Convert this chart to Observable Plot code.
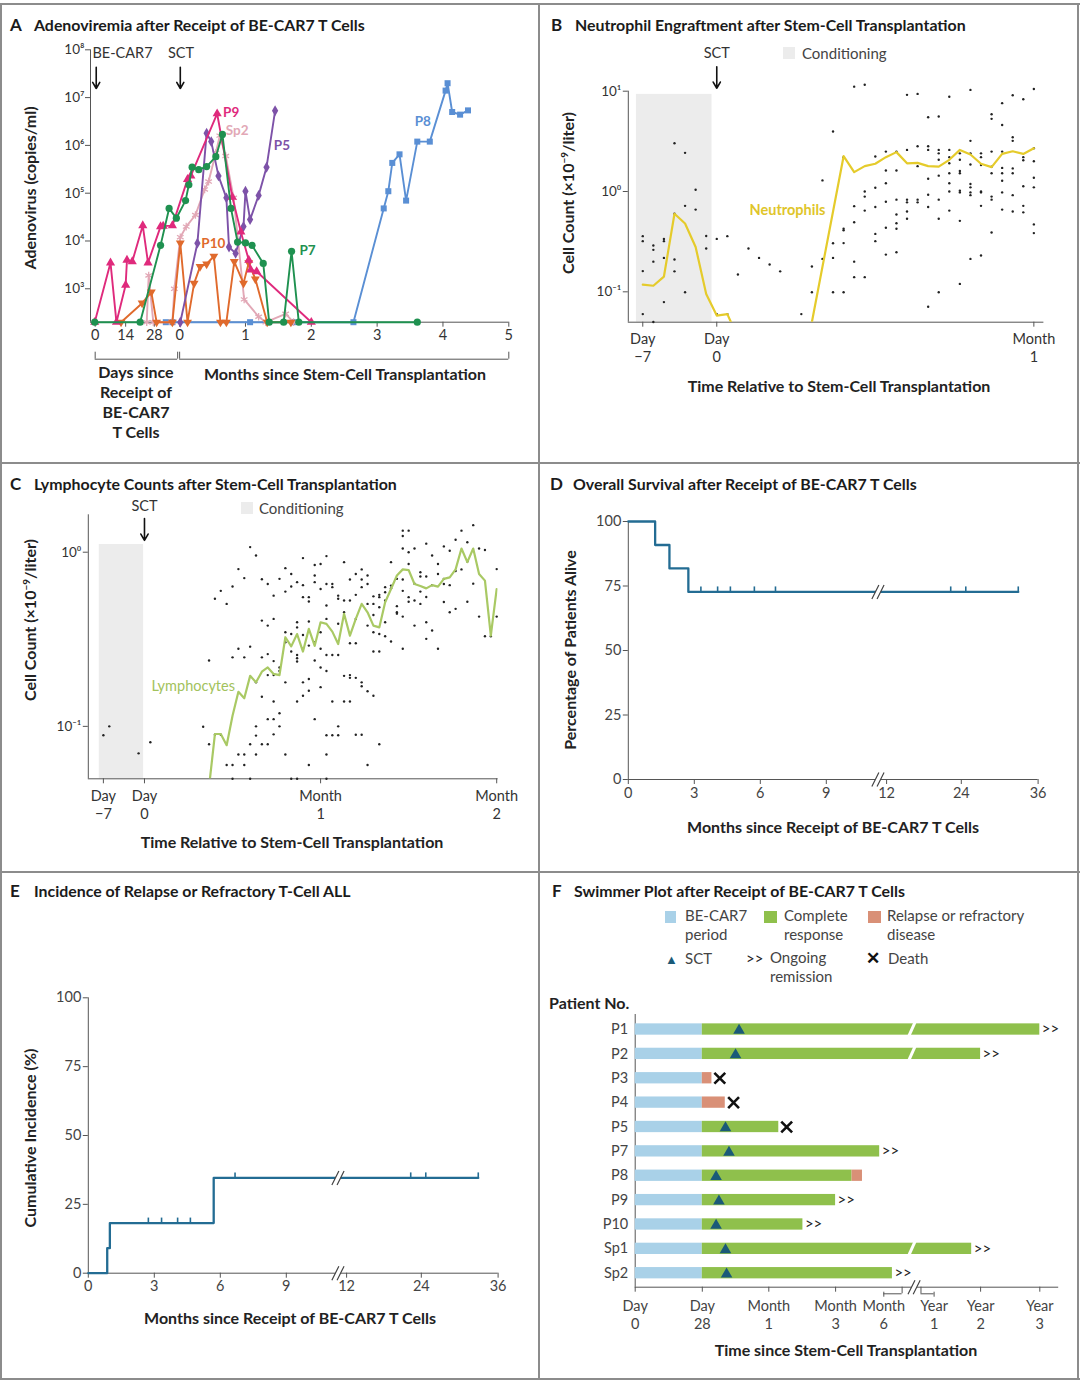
<!DOCTYPE html>
<html>
<head>
<meta charset="utf-8">
<script src="https://cdn.jsdelivr.net/npm/d3@7"></script>
<script src="https://cdn.jsdelivr.net/npm/@observablehq/plot@0.6"></script>
<style>
html,body{margin:0;padding:0;background:#fff;}
#fig{position:relative;width:1080px;height:1381px;overflow:hidden;background:#fff;font-family:Lato,"Open Sans",sans-serif;color:#222;}
.ln{position:absolute;background:#8c8c8c;}
.t{position:absolute;white-space:nowrap;line-height:1.25;}
.ttl{font-weight:700;font-size:15.9px;color:#1b1b1b;}
.let{font-weight:700;font-size:17px;color:#1b1b1b;}
.ax{font-weight:700;font-size:16px;color:#222;}
.lg{font-size:15px;color:#444;}
svg{overflow:visible;}
</style>
</head>
<body>
<div id="fig"></div>
<script>
// ================= DATA =================
// Panel A: [time (months rel. to SCT; negative = BE-CAR7 period), adenovirus copies/ml]; 200 = undetectable
const aP9  = [[-1.29,200],[-1.05,3500],[-0.96,200],[-0.82,1200],[-0.80,4000],[-0.72,3700],[-0.56,21000],[-0.48,3500],[-0.29,20000],[-0.25,20500],[-0.11,21000],[0.12,195000],[0.17,230000],[0.57,4.6e6],[0.80,83000],[0.93,15500],[1.05,4000],[1.08,2500],[1.17,2300],[2.00,200]];
const aSp2 = [[-0.50,200],[-0.47,1900],[-0.40,200],[-0.11,200],[-0.08,1000],[0.01,12000],[0.10,20000],[0.24,35000],[0.38,120000],[0.44,175000],[0.55,700000],[0.61,1.6e6],[0.70,600000],[0.82,80000],[0.98,600],[1.20,260],[1.31,200],[1.61,300],[1.73,200]];
const aP5  = [[0.01,200],[0.27,9000],[0.41,1.8e6],[0.48,1.2e6],[0.59,230000],[0.71,80000],[0.75,7500],[0.85,5500],[0.97,20000],[1.00,110000],[1.07,28000],[1.20,90000],[1.32,350000],[1.45,5.3e6]];
const aP10 = [[-0.89,200],[-0.57,500],[-0.43,850],[-0.35,200],[-0.11,200],[0.01,9000],[0.12,200],[0.22,1300],[0.31,2900],[0.41,3300],[0.52,4800],[0.62,200],[0.71,200],[0.83,3700],[0.97,1300],[1.05,3500],[1.15,1600],[1.33,200],[1.69,200]];
const aP7  = [[-1.29,200],[-0.60,200],[-0.29,8100],[-0.16,48000],[-0.05,30000],[0.09,70000],[0.14,150000],[0.19,350000],[0.29,310000],[0.41,360000],[0.55,580000],[0.65,1.7e6],[0.78,48000],[0.88,9500],[1.00,9100],[1.10,8100],[1.27,3400],[1.36,200],[1.58,200],[1.70,6100],[1.81,200],[3.61,200]];
const aP8  = [[-0.21,200],[-0.11,200],[1.07,200],[1.72,200],[2.64,200],[3.10,48000],[3.17,110000],[3.23,430000],[3.34,650000],[3.44,70000],[3.61,1.2e6],[3.80,1.2e6],[4.04,1.4e7],[4.07,2e7],[4.14,5e6],[4.26,4.4e6],[4.38,5.4e6]];
const aTickPos = [-1.283, -0.82, -0.385, 0, 1, 2, 3, 4, 5];
const aTickLab = ["0","14","28","0","1","2","3","4","5"];
const aYTicks = [1e3,1e4,1e5,1e6,1e7,1e8];
const aLabels = [
  {x:0.66, y:4.9e6, t:"P9",  c:"#df2a7c"},
  {x:0.70, y:2.05e6, t:"Sp2", c:"#e2a8b6"},
  {x:1.43, y:1.0e6, t:"P5",  c:"#7d52a8"},
  {x:3.57, y:3.2e6, t:"P8",  c:"#5a8fd4"},
  {x:0.33, y:8.7e3, t:"P10", c:"#e06a2c"},
  {x:1.82, y:6.2e3, t:"P7",  c:"#1f9150"}
];

// Panel B: neutrophils (days rel. to SCT, x10^9/liter)
const bLineDay = [-7,-6,-5,-4,-3,-2,-1,0,1,2,8,9,12,13,14,15,16,17,18,19,20,21,22,23,24,25,26,27,28,29,30];
const bLineVal = [0.118,0.115,0.142,0.60,0.48,0.28,0.095,0.058,0.060,0.035,0.025,0.05,2.25,1.56,1.79,1.89,2.2,2.47,1.91,1.93,1.79,1.77,2.07,2.6,2.34,1.89,1.75,2.37,2.52,2.37,2.7];
const bDotDay = [-7,-6,-5,-4,-3,-2,-1,0,1,2,3,4,5,6,8,9,10,11,12,13,14,15,16,17,18,19,20,21,22,23,24,25,26,27,28,29,30];
const bDotVal = [
 [0.359,0.32,0.161,0.060],[0.29,0.262,0.20,0.05],[0.337,0.32,0.218,0.079],[3.03,0.60,0.21,0.16],[2.43,0.72,0.099],
 [1.04,0.66],[0.36,0.27],[0.337,0.060],[0.359,0.060],[0.149],[0.27],[0.218],[0.187],[0.16],[0.060],[0.179,0.099],
 [1.29,0.213],[3.96,0.305,0.218,0.099],[2.2,0.425,0.41,0.306,0.099],[11.1,0.715,0.494,0.20,0.14],[11.6,1.0,0.89,0.645,0.14],
 [2.23,1.09,0.70,0.378,0.32],[2.5,1.62,1.21,0.79,0.435,0.235],[2.5,1.62,0.83,0.59,0.483,0.425,0.248],[9.2,2.6,0.83,0.78,0.632,0.535],
 [9.4,2.83,1.79,0.83,0.78],[5.5,2.83,2.6,1.34,0.93,0.70,0.071],[5.6,2.6,2.4,2.07,1.44,0.83,0.535,0.099],[8.8,2.6,2.2,1.91,1.52,1.21,1.0,0.645],
 [2.4,2.07,1.6,1.52,1.02,0.98,0.51,0.12],[10.3,3.2,2.4,1.86,1.19,1.1,0.98,0.92,0.213],[2.4,2.2,1.84,1.0,0.98,0.72,0.23],
 [5.9,5.3,2.5,1.77,1.52,0.89,0.83,0.39],[7.6,4.6,2.5,1.72,1.52,1.28,0.98,0.66],[9.1,3.47,3.2,1.7,1.52,0.92,0.632],
 [8.3,2.2,2.05,1.13,0.72,0.62],[10.5,2.7,2.0,1.37,1.1,0.47,0.385]
];
const bTickPos = [-7, 0, 30];
const bTickLab = ["Day\n\u22127", "Day\n0", "Month\n1"];
const bYTicks = [0.1, 1, 10];
const condB = [-7.6, -0.45, 9.3];

// Panel C: lymphocytes
const cLineDay = d3.range(11, 61);
const cLineVal = [0.045,0.0904,0.0904,0.078,0.115,0.158,0.145,0.195,0.179,0.206,0.218,0.20,0.197,0.325,0.288,0.339,0.269,0.363,0.29,0.396,0.388,0.35,0.297,0.443,0.332,0.414,0.505,0.452,0.379,0.37,0.516,0.615,0.735,0.797,0.79,0.657,0.64,0.62,0.647,0.635,0.703,0.717,0.797,1.05,0.877,1.05,0.75,0.687,0.332,0.615];
const cDotDay = [-7,-6,-1,1].concat(d3.range(10, 61));
const cDotVal = [
 [0.089],[0.1],[0.070],[0.081],
 [0.0995],[0.239,0.079],[0.54,0.0896],[0.60,0.0896],[0.505,0.060],[0.635,0.249,0.060,0.05],[0.80,0.279,0.069],
 [0.71,0.249,0.069,0.060],[1.07,0.287,0.079,0.05],[0.957,0.179,0.1,0.0885,0.069],[0.70,0.405,0.249,0.148,0.079],
 [0.657,0.379,0.26,0.197,0.110,0.079],[0.563,0.414,0.237,0.197,0.139,0.11,0.090],[0.703,0.218,0.208,0.119,0.1],
 [0.81,0.594,0.347,0.304,0.179,0.069],[0.75,0.635,0.339,0.269,0.05],[0.673,0.396,0.37,0.257,0.246,0.236,0.139,0.05],
 [0.925,0.647,0.552,0.335,0.279,0.179,0.15],[0.552,0.521,0.4,0.291,0.187,0.16,0.06],[0.845,0.735,0.673,0.304,0.239,0.11],
 [0.855,0.615,0.347,0.279,0.218,0.168],[0.95,0.657,0.494,0.414,0.257,0.208,0.089,0.069,0.05],[0.657,0.63,0.257,0.139,0.089],
 [0.563,0.54,0.388,0.257,0.1,0.089],[0.877,0.528,0.452,0.195,0.139],[0.697,0.528,0.30,0.197,0.19,0.139],
 [0.75,0.569,0.414,0.30,0.19,0.0896],[0.797,0.697,0.63,0.179,0.17,0.0896],[0.735,0.657,0.505,0.379,0.159,0.06],
 [0.558,0.505,0.436,0.347,0.269,0.15],[0.569,0.552,0.483,0.339,0.269,0.079],[0.63,0.589,0.528,0.396,0.329],
 [0.877,0.643,0.62,0.307],[0.703,0.49,0.452,0.444],[1.33,1.24,1.05,0.697,0.60,0.427,0.279],[1.33,1.0,0.855,0.552,0.52],
 [1.05,0.66,0.528,0.379],[0.767,0.725,0.594,0.505],[1.12,0.725,0.553,0.396,0.318],[0.957,0.647,0.355],[0.855,0.75,0.279],
 [1.08,0.703,0.657,0.518],[1.02,0.647,0.452],[1.18,0.78,0.473],[1.33,0.797],[1.14,0.885,0.52],[1.43,0.66],[1.05,0.427],
 [1.03,0.329],[0.329],[0.80,0.427]
];
const cTickPos = [-7, 0, 30, 60];
const cTickLab = ["Day\n\u22127", "Day\n0", "Month\n1", "Month\n2"];
const cYTicks = [0.1, 1];
const condC = [-7.7, -0.15, 1.107];

// Panel D: overall survival (months)
const dTime = [0, 1.22, 1.87, 2.73, 32.9];
const dSurv = [100, 90.9, 81.8, 72.7, 72.7];
const dCensor = [3.3, 4.06, 4.64, 5.73, 6.69, 22.3, 24.7, 32.9];
// Panel E: cumulative incidence of relapse (months)
const eTime = [0, 0.86, 0.98, 5.7, 32.9];
const eInc  = [0, 9.1, 18.2, 34.6, 34.6];
const eCensorLow = [2.73, 3.33, 4.06, 4.64];
const eCensorHigh = [6.67, 22.3, 24.7, 32.9];
const kmTicks = [0, 3, 6, 9, 12, 24, 36];
const kmYTicks = [0, 25, 50, 75, 100];
const kmBreak = 11.57;

// Panel F: swimmer plot (x in days from BE-CAR7 on a broken axis)
const fPatients = ["P1","P2","P3","P4","P5","P7","P8","P9","P10","Sp1","Sp2"];
const fCarEnd  = 28;
const fCREnd   = [1123, 758, null, null, 67.5, 202.8, 150.5, 119.3, 89.5, 688, 241.8];
const fRelapse = [null, null, [28,32.4], [28,38.5], null, null, [150.5,170.2], null, null, null, null];
const fSCT     = [44.8, 43.2, null, null, 38.6, 40.2, 34.3, 35.6, 34.3, 38.6, 39.1];
const fDeath   = [null, null, 36, 42.3, 74.7, null, null, null, null, null, null];
const fOngoing = [true, true, false, false, false, true, false, true, true, true, true];
const fBroken  = ["P1", "P2", "Sp1"];
const fTickPos = [0, 28, 58.4, 119.3, 210.6, 393, 758, 1123];
const fTickLab = ["Day\n0","Day\n28","Month\n1","Month\n3","Month\n6","Year\n1","Year\n2","Year\n3"];
const fTickMarks = [0, 28, 58.4, 119.3, 758, 1123];

// ================= HELPERS =================
const fig = document.getElementById("fig");
const SUP = {"0":"\u2070","1":"\u00b9","2":"\u00b2","3":"\u00b3","4":"\u2074","5":"\u2075","6":"\u2076","7":"\u2077","8":"\u2078","9":"\u2079","-":"\u207b"};
const logFmt = d => "10" + String(Math.round(Math.log10(d))).split("").map(c => SUP[c]).join("");
const FONT = "Lato, 'Open Sans', sans-serif";
const baseStyle = {fontFamily: FONT, fontSize: "14px", color: "#333", overflow: "visible", background: "transparent"};
function place(node, left, top) { node.style.position = "absolute"; node.style.left = left + "px"; node.style.top = top + "px"; fig.appendChild(node); }
function txt(html, x, y, cls, mode) {
  const d = document.createElement("div"); d.className = "t " + cls; d.innerHTML = html;
  d.style.left = x + "px"; d.style.top = y + "px";
  d.style.transform = mode === "rot" ? "translate(-50%,-50%) rotate(-90deg)" : mode === "left" ? "translate(0,-50%)" : "translate(-50%,-50%)";
  if (mode === "center") d.style.textAlign = "center";
  fig.appendChild(d); return d;
}
function line(x, y, w, h) { const d = document.createElement("div"); d.className = "ln"; Object.assign(d.style, {left:x+"px", top:y+"px", width:w+"px", height:h+"px"}); fig.appendChild(d); }
const lookup = (pos, lab) => d => lab[pos.indexOf(d)];
const gapSym = {draw(ctx, size){ const r = Math.sqrt(size/Math.PI); ctx.moveTo(-r*0.5-2.6, r); ctx.lineTo(r*0.5-2.6, -r); ctx.lineTo(r*0.5+2.6, -r); ctx.lineTo(-r*0.5+2.6, r); ctx.closePath(); }};
const dblSym = {draw(ctx, size){ const r = Math.sqrt(size/Math.PI); for (const o of [-2.6, 2.6]) { ctx.moveTo(-r*0.5+o, r); ctx.lineTo(r*0.5+o, -r); } }};
const slashSym = {draw(ctx, size){ const r = Math.sqrt(size/Math.PI); ctx.moveTo(-r*0.45, r); ctx.lineTo(r*0.45, -r); }};

// broken-axis unit conversions (months or days -> position along a linear axis)
const kmPos = d3.scaleLinear().domain([0, 9, 12, 24, 36]).range([0, 198, 258.3, 333, 409.8]);
const fPos = d3.scaleLinear().domain([0, 28, 58.4, 119.3, 210.6, 393, 758, 1123, 1240]).range([0, 67.1, 133.6, 200.4, 248.6, 298.9, 345.4, 404.6, 423.5]);

// ================= PANEL A =================
const aSeries = [
  {d: aP8,  c: "#5a8fd4", s: "square",   r: 3.4, rot: 0},
  {d: aSp2, c: "#e2a8b6", s: "asterisk", r: 3.6, rot: 0, stroke: true},
  {d: aP10, c: "#e06a2c", s: "triangle", r: 3.3, rot: 180},
  {d: aP5,  c: "#7d52a8", s: "diamond",  r: 3.3, rot: 0},
  {d: aP9,  c: "#df2a7c", s: "triangle", r: 3.4, rot: 0},
  {d: aP7,  c: "#1f9150", s: "circle",   r: 3.6, rot: 0}
];
const aMarks = [];
for (const s of aSeries) {
  aMarks.push(Plot.line(s.d, {x: "0", y: "1", stroke: s.c, strokeWidth: 1.9}));
  aMarks.push(s.stroke
    ? Plot.dot(s.d, {x: "0", y: "1", symbol: s.s, r: s.r, stroke: s.c, strokeWidth: 1.3})
    : Plot.dot(s.d, {x: "0", y: "1", symbol: s.s, r: s.r, fill: s.c, rotate: s.rot}));
}
const plotA = Plot.plot({
  width: 540, height: 463, marginLeft: 90, marginRight: 31.7, marginTop: 49.3, marginBottom: 141.3,
  style: baseStyle,
  x: {domain: [-1.354, 5]},
  y: {type: "log", domain: [200, 1e8]},
  marks: [
    Plot.axisX({ticks: aTickPos, tickFormat: lookup(aTickPos, aTickLab), tickSize: 5, tickPadding: 3, fontSize: 14.5, label: null, stroke: "#555"}),
    Plot.axisY({ticks: aYTicks, tickFormat: logFmt, tickSize: 5, tickPadding: 1, fontSize: 13.5, label: null, stroke: "#555"}),
    Plot.ruleX([-1.354], {y1: 200, y2: 1e8, stroke: "#555"}),
    Plot.ruleY([200], {x1: -1.354, x2: 5, stroke: "#555"}),
    Plot.ruleY([200], {x1: -1.283, x2: -0.03, dy: 37, stroke: "#555"}),
    Plot.ruleY([200], {x1: 0, x2: 5, dy: 37, stroke: "#555"}),
    Plot.ruleX([-1.283, -0.03, 0, 5], {y1: 200, y2: 200, dy: 37, insetTop: -7, stroke: "#555"}),
    ...aMarks,
    Plot.text(aLabels, {x: "x", y: "y", text: "t", fill: "c", textAnchor: "start", fontWeight: "bold", fontSize: 13.5}),
    Plot.text([{x: -1.324, y: 8.3e7, t: "BE-CAR7"}], {x: "x", y: "y", text: "t", textAnchor: "start", fontSize: 14.5, fill: "#333"}),
    Plot.text([{x: 0.02, y: 8.3e7, t: "SCT"}], {x: "x", y: "y", text: "t", fontSize: 14.5, fill: "#333"}),
    Plot.arrow([{x: -1.267}, {x: 0.01}], {x1: "x", x2: "x", y1: () => 4.3e7, y2: () => 1.55e7, stroke: "#111", strokeWidth: 1.6, headLength: 7})
  ]
});
place(plotA, 0, 0);

// ================= PANEL B =================
const bLine = bLineDay.map((d, i) => ({d, v: bLineVal[i]}));
const bDots = bDotDay.flatMap((d, i) => bDotVal[i].map(v => ({d, v})));
const plotB = Plot.plot({
  width: 540, height: 463, marginLeft: 87.8, marginRight: 36.6, marginTop: 90.7, marginBottom: 141.3,
  style: baseStyle,
  x: {domain: [-8.37, 30.95]},
  y: {type: "log", domain: [0.0498, 10]},
  marks: [
    Plot.rect([condB], {x1: "0", x2: "1", y1: () => 0.0498, y2: "2", fill: "#ececec"}),
    Plot.axisX({ticks: bTickPos, tickFormat: lookup(bTickPos, bTickLab), tickSize: 5, tickPadding: 4, fontSize: 14.5, lineHeight: 1.25, label: null, stroke: "#555"}),
    Plot.axisY({ticks: bYTicks, tickFormat: logFmt, tickSize: 5, tickPadding: 2, fontSize: 13.5, label: null, stroke: "#555"}),
    Plot.ruleX([-8.37], {y1: 0.0498, y2: 10, stroke: "#555"}),
    Plot.ruleY([0.0498], {x1: -8.37, x2: 30.95, stroke: "#555"}),
    Plot.dot(bDots, {x: "d", y: "v", r: 1.2, fill: "#222"}),
    Plot.line(bLine, {x: "d", y: "v", stroke: "#e5cb2b", strokeWidth: 2.2, clip: true}),
    Plot.text([{x: 3.1, y: 0.645, t: "Neutrophils"}], {x: "x", y: "y", text: "t", textAnchor: "start", fill: "#e0c52a", fontWeight: "bold", fontSize: 14.5}),
    Plot.text([{x: 0, y: 23.8, t: "SCT"}], {x: "x", y: "y", text: "t", fontSize: 14.5, fill: "#333"}),
    Plot.arrow([{x: 0}], {x1: "x", x2: "x", y1: () => 17.5, y2: () => 10.7, stroke: "#111", strokeWidth: 1.6, headLength: 7})
  ]
});
place(plotB, 540, 0);

// ================= PANEL C =================
const cLine = cLineDay.map((d, i) => ({d, v: cLineVal[i]}));
const cDots = cDotDay.flatMap((d, i) => cDotVal[i].map(v => ({d, v})));
const plotC = Plot.plot({
  width: 540, height: 409, marginLeft: 87.8, marginRight: 42.4, marginTop: 51.3, marginBottom: 93.7,
  style: baseStyle,
  x: {domain: [-9.57, 60.24]},
  y: {type: "log", domain: [0.05, 1.64]},
  marks: [
    Plot.rect([condC], {x1: "0", x2: "1", y1: () => 0.05, y2: "2", fill: "#ececec"}),
    Plot.axisX({ticks: cTickPos, tickFormat: lookup(cTickPos, cTickLab), tickSize: 5, tickPadding: 4, fontSize: 14.5, lineHeight: 1.25, label: null, stroke: "#555"}),
    Plot.axisY({ticks: cYTicks, tickFormat: logFmt, tickSize: 5, tickPadding: 2, fontSize: 13.5, label: null, stroke: "#555"}),
    Plot.ruleX([-9.57], {y1: 0.05, y2: 1.64, stroke: "#555"}),
    Plot.ruleY([0.05], {x1: -9.57, x2: 60.24, stroke: "#555"}),
    Plot.dot(cDots, {x: "d", y: "v", r: 1.2, fill: "#222"}),
    Plot.line(cLine, {x: "d", y: "v", stroke: "#a9c964", strokeWidth: 2.2, clip: true}),
    Plot.text([{x: 1.2, y: 0.169, t: "Lymphocytes"}], {x: "x", y: "y", text: "t", textAnchor: "start", fill: "#a2c25c", fontSize: 14.5}),
    Plot.text([{x: 0, y: 1.83, t: "SCT"}], {x: "x", y: "y", text: "t", fontSize: 14.5, fill: "#333"}),
    Plot.arrow([{x: 0}], {x1: "x", x2: "x", y1: () => 1.56, y2: () => 1.17, stroke: "#111", strokeWidth: 1.6, headLength: 7})
  ]
});
place(plotC, 0, 463);

// ================= PANELS D & E =================
function kmPlot(height, mTop, mBottom, curve, censorSets) {
  const steps = curve.t.map((t, i) => ({t, v: curve.v[i]}));
  const censorMarks = censorSets.map(cs => Plot.ruleX(cs.x, {x: d => kmPos(d), y1: () => cs.y, y2: () => cs.y, insetTop: -5, stroke: "#236c93", strokeWidth: 1.6}));
  const brk = [{x: kmBreak, y: 0}, {x: kmBreak, y: curve.breakY}];
  return Plot.plot({
    width: 540, height, marginLeft: 87.8, marginRight: 42.4, marginTop: mTop, marginBottom: mBottom,
    style: baseStyle,
    x: {domain: [kmPos(0), kmPos(36)]},
    y: {domain: [0, 100]},
    marks: [
      Plot.axisX({ticks: kmTicks.map(kmPos), tickFormat: d => kmTicks[kmTicks.map(kmPos).indexOf(d)], tickSize: 5, tickPadding: 3, fontSize: 14.5, label: null, stroke: "#555", fill: "#444"}),
      Plot.axisY({ticks: kmYTicks, tickSize: 5, tickPadding: 2, fontSize: 14.5, label: null, stroke: "#555", fill: "#444"}),
      Plot.ruleX([kmPos(0)], {y1: 0, y2: 100, stroke: "#555"}),
      Plot.ruleY([0], {x1: kmPos(0), x2: kmPos(36), stroke: "#555"}),
      Plot.line(steps, {x: d => kmPos(d.t), y: "v", curve: "step-after", stroke: "#236c93", strokeWidth: 2.3}),
      ...censorMarks,
      Plot.dot(brk, {x: d => kmPos(d.x), y: "y", symbol: gapSym, r: 7, fill: "white", stroke: "none"}),
      Plot.dot(brk, {x: d => kmPos(d.x), y: "y", symbol: dblSym, r: 7, fill: "none", stroke: "#444", strokeWidth: 1.2})
    ]
  });
}
const plotD = kmPlot(409, 58, 93, {t: dTime, v: dSurv, breakY: dSurv[dSurv.length-1]}, [{x: dCensor, y: dSurv[dSurv.length-1]}]);
place(plotD, 540, 463);
const plotE = kmPlot(509, 125.3, 108.3, {t: eTime, v: eInc, breakY: eInc[eInc.length-1]}, [{x: eCensorLow, y: eInc[2]}, {x: eCensorHigh, y: eInc[eInc.length-1]}]);
place(plotE, 0, 872);

// ================= PANEL F =================
const H = 0.232;
const fRows = fPatients.map((p, i) => ({p, i}));
const fCar = fRows.map(r => ({i: r.i, x1: 0, x2: fCarEnd}));
const fCR = fRows.filter(r => fCREnd[r.i] != null).map(r => ({i: r.i, x1: fCarEnd, x2: fCREnd[r.i]}));
const fRel = fRows.filter(r => fRelapse[r.i]).map(r => ({i: r.i, x1: fRelapse[r.i][0], x2: fRelapse[r.i][1]}));
const fTri = fRows.filter(r => fSCT[r.i] != null).map(r => ({i: r.i, x: fSCT[r.i]}));
const fX = fRows.filter(r => fDeath[r.i] != null).map(r => ({i: r.i, x: fDeath[r.i]}));
const fOn = fRows.filter(r => fOngoing[r.i]).map(r => ({i: r.i, x: fCREnd[r.i]}));
const fBrk = fRows.filter(r => fBroken.includes(r.p)).map(r => ({i: r.i, x: 311.8}));
const fTickU = fTickPos.map(fPos), fMarkU = fTickMarks.map(fPos);
const yB = 10.574, yT = -0.616;
const plotF = Plot.plot({
  width: 540, height: 509, marginLeft: 94.7, marginRight: 21.8, marginTop: 142, marginBottom: 94.3,
  style: baseStyle,
  x: {domain: [fPos(0), fPos(1240)]},
  y: {domain: [yB, yT]},
  marks: [
    Plot.axisX({ticks: fTickU, tickFormat: d => fTickLab[fTickU.indexOf(d)], tickSize: 0, tickPadding: 11, fontSize: 14.5, lineHeight: 1.25, label: null, fill: "#444"}),
    Plot.axisX({ticks: fMarkU, tickFormat: () => "", tickSize: 5, label: null, stroke: "#555"}),
    Plot.axisY({ticks: d3.range(fPatients.length), tickFormat: i => fPatients[i], tickSize: 0, tickPadding: 7, fontSize: 14.5, label: null, fill: "#444"}),
    Plot.ruleX([fPos(0)], {y1: yB, y2: yT, stroke: "#555"}),
    Plot.ruleY([yB], {x1: fPos(0), x2: fPos(1240), stroke: "#555"}),
    Plot.ruleY([yB], {x1: fPos(210.6), x2: fPos(277), dy: 6.6, stroke: "#555"}),
    Plot.ruleY([yB], {x1: fPos(345.4), x2: fPos(393), dy: 6.6, stroke: "#555"}),
    Plot.ruleX([277, 345.4], {x: fPos, y1: () => yB, y2: () => yB, insetBottom: -6.6, stroke: "#555"}),
    Plot.ruleX([210.6, 393], {x: fPos, y1: () => yB, y2: () => yB, dy: 5, insetBottom: -5, stroke: "#555"}),
    Plot.dot([{x: 320.4, y: yB}], {x: d => fPos(d.x), y: "y", symbol: gapSym, r: 7, fill: "white", stroke: "none"}),
    Plot.dot([{x: 320.4, y: yB}], {x: d => fPos(d.x), y: "y", symbol: dblSym, r: 7, fill: "none", stroke: "#444", strokeWidth: 1.2}),
    Plot.rect(fCar, {x1: d => fPos(d.x1), x2: d => fPos(d.x2), y1: d => d.i - H, y2: d => d.i + H, fill: "#a9d1e8"}),
    Plot.rect(fCR, {x1: d => fPos(d.x1), x2: d => fPos(d.x2), y1: d => d.i - H, y2: d => d.i + H, fill: "#8fc04c"}),
    Plot.rect(fRel, {x1: d => fPos(d.x1), x2: d => fPos(d.x2), y1: d => d.i - H, y2: d => d.i + H, fill: "#d99077"}),
    Plot.dot(fBrk, {x: d => fPos(d.x), y: "i", symbol: slashSym, r: 8, stroke: "white", strokeWidth: 3, fill: "none"}),
    Plot.dot(fTri, {x: d => fPos(d.x), y: "i", symbol: "triangle", r: 4.3, fill: "#1a5a78", dy: 1}),
    Plot.dot(fX, {x: d => fPos(d.x), y: "i", symbol: "times", r: 5, stroke: "#111", strokeWidth: 2.6}),
    Plot.text(fOn, {x: d => fPos(d.x), y: "i", text: () => ">>", textAnchor: "start", dx: 2, fontSize: 15, fill: "#222"})
  ]
});
place(plotF, 540, 872);

// ================= BORDERS, TITLES, LABELS =================
line(0, 3, 1080, 2); line(0, 1378, 1080, 2); line(0, 3, 2, 1377); line(1077, 3, 2, 1377);
line(538, 3, 2, 1377); line(0, 462, 1080, 2); line(0, 871, 1080, 2);

const titles = [
  ["A", "Adenoviremia after Receipt of BE-CAR7 T Cells", 10, 34, 25],
  ["B", "Neutrophil Engraftment after Stem-Cell Transplantation", 551, 575, 25],
  ["C", "Lymphocyte Counts after Stem-Cell Transplantation", 10, 34, 484],
  ["D", "Overall Survival after Receipt of BE-CAR7 T Cells", 550, 573, 484],
  ["E", "Incidence of Relapse or Refractory T-Cell ALL", 10, 34, 891],
  ["F", "Swimmer Plot after Receipt of BE-CAR7 T Cells", 552, 574, 891]
];
for (const [l, t, x1, x2, y] of titles) { txt(l, x1, y, "let", "left"); txt(t, x2, y, "ttl", "left"); }

txt("Adenovirus (copies/ml)", 30, 188, "ax", "rot");
txt("Days since<br>Receipt of<br>BE-CAR7<br>T Cells", 136, 402, "ax", "center");
txt("Months since Stem-Cell Transplantation", 345, 374, "ax", "c");
txt("Cell Count (\u00d710<sup style='font-size:10px'>\u22129</sup>/liter)", 568, 193, "ax", "rot");
txt("Time Relative to Stem-Cell Transplantation", 839, 386, "ax", "c");
txt("Cell Count (\u00d710<sup style='font-size:10px'>\u22129</sup>/liter)", 30, 620, "ax", "rot");
txt("Time Relative to Stem-Cell Transplantation", 292, 842, "ax", "c");
txt("Percentage of Patients Alive", 570, 650, "ax", "rot");
txt("Months since Receipt of BE-CAR7 T Cells", 833, 827, "ax", "c");
txt("Cumulative Incidence (%)", 30, 1138, "ax", "rot");
txt("Months since Receipt of BE-CAR7 T Cells", 290, 1318, "ax", "c");
txt("Time since Stem-Cell Transplantation", 846, 1350, "ax", "c");
txt("Patient No.", 549, 1003, "ax", "left");

function sw(x, y, w, h, c) { const d = document.createElement("div"); Object.assign(d.style, {position:"absolute", left:x+"px", top:y+"px", width:w+"px", height:h+"px", background:c}); fig.appendChild(d); }
sw(783, 47, 12, 12, "#ececec"); txt("Conditioning", 802, 53, "lg", "left");
sw(241, 502, 12, 12, "#ececec"); txt("Conditioning", 259, 508, "lg", "left");

sw(665, 911, 11, 12, "#a9d1e8"); txt("BE-CAR7<br>period", 685, 925, "lg", "left");
sw(764, 911, 13, 12, "#8fc04c"); txt("Complete<br>response", 784, 925, "lg", "left");
sw(868, 911, 13, 12, "#d99077"); txt("Relapse or refractory<br>disease", 887, 925, "lg", "left");
txt("<span style='color:#1a5a78;font-size:13px'>\u25b2</span>", 665, 958, "lg", "left");
txt("SCT", 685, 958, "lg", "left");
txt("<span style='color:#222'>&gt;&gt;</span>", 746, 958, "lg", "left");
txt("Ongoing<br>remission", 770, 967, "lg", "left");
txt("<span style='color:#111;font-weight:700;font-size:17px'>\u2715</span>", 866, 958, "lg", "left");
txt("Death", 888, 958, "lg", "left");
</script>
</body>
</html>
